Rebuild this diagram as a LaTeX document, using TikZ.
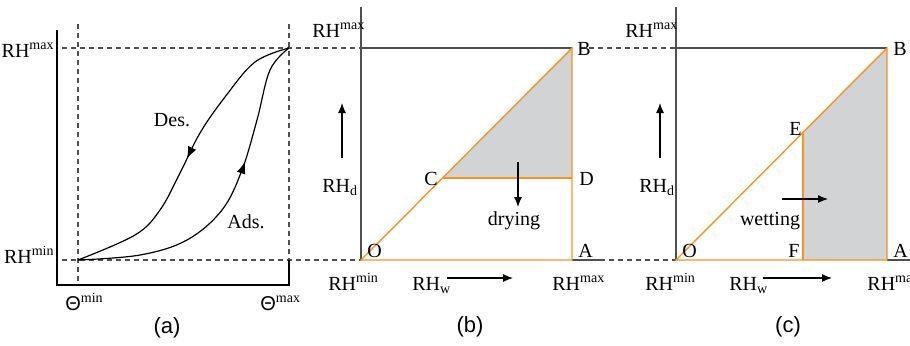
\documentclass[tikz,border=0pt]{standalone}
\usepackage{fontspec}
\setmainfont{Liberation Serif}
\newfontfamily\arialfont{Liberation Sans}
\usetikzlibrary{arrows.meta, decorations.markings}
\definecolor{edgeorange}{RGB}{247,147,30}
\definecolor{areagray}{RGB}{209,211,212}
\definecolor{axisgray}{RGB}{80,80,80}
\newcommand{\RHup}[1]{RH\textsuperscript{#1}}
\newcommand{\RHdown}[1]{RH\textsubscript{#1}}
\newcommand{\Thup}[1]{{\arialfont Θ}\textsuperscript{#1}}

\begin{document}
\begin{tikzpicture}[x=0.5pt, y=-0.5pt,
		axis/.style={line width=0.6pt},
		guide/.style={axisgray, line width=0.6pt, dash pattern=on 2.5pt off 2pt},
		edge/.style={edgeorange, line width=0.7pt},
		lbl/.style={inner sep=0pt, anchor=base west},
		panelcap/.style={inner sep=0pt, anchor=base, font=\arialfont\fontsize{11}{13}\selectfont},
		flow/.style={-{Latex[length=5pt, width=4pt]}, line width=0.6pt},
		midarrow/.style={postaction={decorate}, decoration={markings,
				mark=at position #1 with {\arrow{Latex[length=6pt, width=4.5pt]}}}}]
	\useasboundingbox (0,0) rectangle (910,345);
	%--- Panel (a): hysteresis loop ---
	\coordinate (aLo) at (78,260);
	\coordinate (aHi) at (289,48);
	\draw[guide] (62,48) -- (361,48);
	\draw[guide] (62,260) -- (361,260);
	\draw[guide] (78,24) -- (78,285);
	\draw[guide] (289,24) -- (aHi) -- (289,260);
	\draw[axis] (57,30) -- (57,285) -- (289,285) -- (289,260);
	\draw[line width=0.6pt, midarrow=0.5] plot[smooth, tension=0.6] coordinates
		{(289,48) (255,62) (225,97) (200,133) (180,173) (160,210) (135,235) (78,260)};
	\draw[line width=0.6pt, midarrow=0.63] plot[smooth, tension=0.6] coordinates
		{(78,260) (140,255) (187,240) (222,210) (242,170) (257,120) (270,70) (289,48)};
	\node[lbl, anchor=base east] (aRHmax) at (55,57) {\RHup{max}};
	\node[lbl, anchor=base east] (aRHmin) at (55,263) {\RHup{min}};
	\node[lbl] (aThmin) at (65,310) {\Thup{min}};
	\node[lbl] (aThmax) at (260,310) {\Thup{max}};
	\node[lbl, anchor=base] (des) at (172,126) {Des.};
	\node[lbl, anchor=base] (ads) at (246,228) {Ads.};
	\node[panelcap] (capA) at (167,333) {(a)};
	%--- Panel (b): drying ---
	\coordinate (bO) at (361,260);
	\coordinate (bA) at (572,260);
	\coordinate (bB) at (572,48);
	\coordinate (bC) at (443,178);
	\coordinate (bD) at (572,178);
	\draw[axis, axisgray] (361,7) -- (bO);
	\draw[axis, axisgray] (361,48) -- (bB);
	\draw[axis, axisgray] (bA) -- (600,260);
	\draw[guide] (580,48) -- (676,48);
	\draw[guide] (600,260) -- (676,260);
	\fill[areagray] (bC) -- (bB) -- (bD) -- cycle;
	\draw[edge] (bO) -- (bB) -- (bA) -- cycle;
	\draw[edge] (bC) -- (bD);
	\node[lbl] (bRHtop) at (312,37) {\RHup{max}};
	\node[lbl] (bRHd) at (322,192) {\RHdown{d}};
	\node[lbl] (bRHmin) at (328,290) {\RHup{min}};
	\node[lbl] (bRHw) at (412,290) {\RHdown{w}};
	\node[lbl] (bRHmax) at (552,290) {\RHup{max}};
	\node[lbl] (bOl) at (367,257) {O};
	\node[lbl] (bAl) at (578,257) {A};
	\node[lbl] (bBl) at (577,55) {B};
	\node[lbl] (bCl) at (424,185) {C};
	\node[lbl] (bDl) at (579,185) {D};
	\node[lbl, anchor=base] (drying) at (514,225) {drying};
	\coordinate (bUp0) at (342,158);
	\coordinate (bUp1) at (342,103);
	\draw[flow] (bUp0) -- (bUp1);
	\coordinate (bW0) at (447,278);
	\coordinate (bW1) at (513,278);
	\draw[flow] (bW0) -- (bW1);
	\coordinate (bDr0) at (518,162);
	\coordinate (bDr1) at (518,207);
	\draw[flow] (bDr0) -- (bDr1);
	\node[panelcap] (capB) at (470,332) {(b)};
	%--- Panel (c): wetting ---
	\coordinate (cO) at (676,260);
	\coordinate (cA) at (887,260);
	\coordinate (cB) at (887,48);
	\coordinate (cE) at (803,133);
	\coordinate (cF) at (803,260);
	\draw[axis, axisgray] (676,7) -- (cO);
	\draw[axis, axisgray] (676,48) -- (cB);
	\draw[axis, axisgray] (cA) -- (910,260);
	\fill[areagray] (cE) -- (cB) -- (cA) -- (cF) -- cycle;
	\draw[edge] (cO) -- (cB) -- (cA) -- cycle;
	\draw[edge] (cE) -- (cF);
	\node[lbl] (cRHtop) at (625,37) {\RHup{max}};
	\node[lbl] (cRHd) at (639,192) {\RHdown{d}};
	\node[lbl] (cRHmin) at (645,290) {\RHup{min}};
	\node[lbl] (cRHw) at (729,290) {\RHdown{w}};
	\node[lbl] (cRHmax) at (867,290) {\RHup{max}};
	\node[lbl] (cOl) at (682,257) {O};
	\node[lbl] (cFl) at (788,257) {F};
	\node[lbl] (cAl) at (893,257) {A};
	\node[lbl] (cBl) at (893,55) {B};
	\node[lbl] (cEl) at (789,135) {E};
	\node[lbl, anchor=base] (wetting) at (770,225) {wetting};
	\coordinate (cUp0) at (660,158);
	\coordinate (cUp1) at (660,103);
	\draw[flow] (cUp0) -- (cUp1);
	\coordinate (cW0) at (763,278);
	\coordinate (cW1) at (832,278);
	\draw[flow] (cW0) -- (cW1);
	\coordinate (cWe0) at (782,199);
	\coordinate (cWe1) at (828,199);
	\draw[flow] (cWe0) -- (cWe1);
	\node[panelcap] (capC) at (788,332) {(c)};
\end{tikzpicture}
\end{document}
